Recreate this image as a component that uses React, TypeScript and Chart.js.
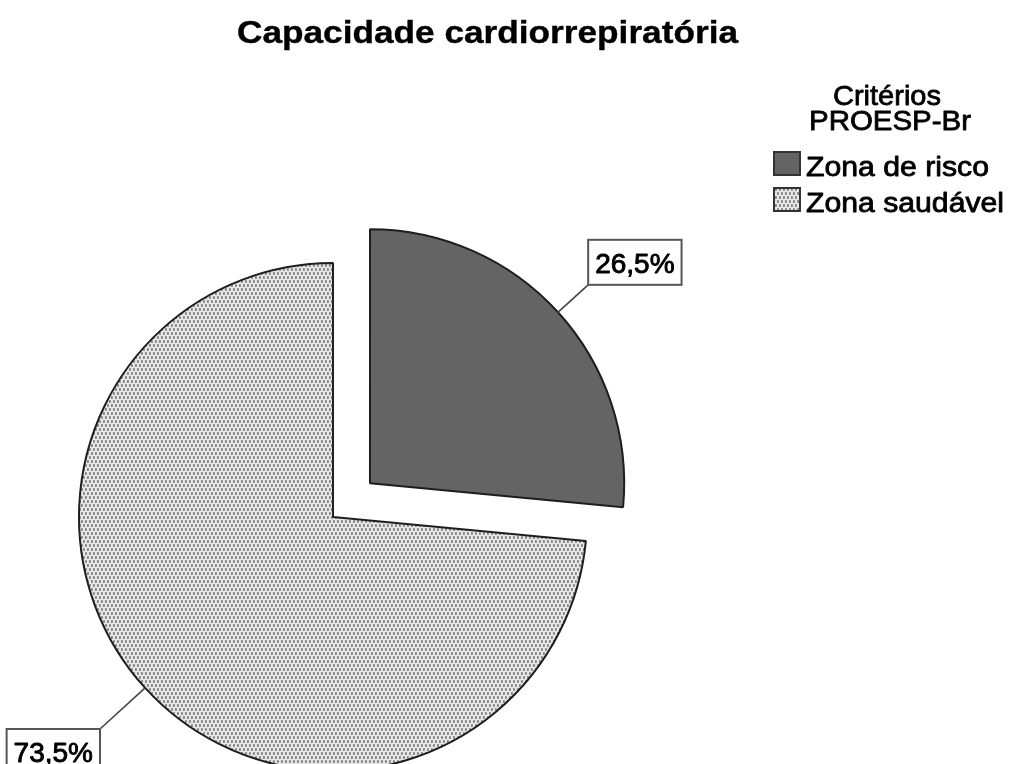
import { useEffect, useRef } from 'react';
import { Chart, registerables } from 'chart.js';

Chart.register(...registerables);

const chartTitle = 'Capacidade cardiorrepiratória';
const legendTitle = ['Critérios', 'PROESP-Br'];
const categories = ['Zona de risco', 'Zona saudável'];
const values = [26.5, 73.5];

const FONT = '"Liberation Sans", Arial, sans-serif';

function fmt(v: number) {
  return v.toFixed(1).replace('.', ',') + '%';
}

function makePattern(ctx: CanvasRenderingContext2D): CanvasPattern | string {
  const c = document.createElement('canvas');
  c.width = 4;
  c.height = 8;
  const p = c.getContext('2d');
  if (!p) return '#d8d8d8';
  p.fillStyle = '#e6e6e6';
  p.fillRect(0, 0, 4, 8);
  p.fillStyle = '#9a9a9a';
  p.fillRect(1, 0, 2, 3);
  p.fillRect(3, 4, 1, 3);
  p.fillRect(0, 4, 1, 3);
  p.fillStyle = '#737373';
  p.fillRect(1, 1, 1, 1);
  p.fillRect(3, 5, 1, 1);
  return ctx.createPattern(c, 'repeat') || '#d8d8d8';
}

function drawStretched(
  ctx: CanvasRenderingContext2D,
  text: string,
  x: number,
  y: number,
  font: string,
  align: 'left' | 'center',
  targetWidth: number,
  thicken: number
) {
  ctx.save();
  ctx.font = font;
  ctx.textBaseline = 'alphabetic';
  ctx.textAlign = 'left';
  const w = ctx.measureText(text).width;
  const sx = targetWidth / w;
  const left = align === 'center' ? x - targetWidth / 2 : x;
  ctx.translate(left, y);
  ctx.scale(sx, 1);
  ctx.fillStyle = '#000';
  ctx.fillText(text, 0, 0);
  if (thicken > 0) {
    ctx.strokeStyle = '#000';
    ctx.lineWidth = thicken;
    ctx.lineJoin = 'round';
    ctx.strokeText(text, 0, 0);
  }
  ctx.restore();
}

export default function App() {
  const ref = useRef<HTMLCanvasElement | null>(null);

  useEffect(() => {
    const canvas = ref.current;
    if (!canvas) return;
    const ctx = canvas.getContext('2d');
    if (!ctx) return;
    const pattern = makePattern(ctx);
    const colors = ['#646464', pattern];

    const overlay = {
      id: 'overlay',
      afterDraw(chart: any) {
        const c: CanvasRenderingContext2D = chart.ctx;
        // Title
        drawStretched(c, chartTitle, 487.5, 43, `bold 32px ${FONT}`, 'center', 501, 0.4);
        // Legend title
        drawStretched(c, legendTitle[0], 887, 105, `28px ${FONT}`, 'center', 108, 0.8);
        drawStretched(c, legendTitle[1], 890, 130, `28px ${FONT}`, 'center', 162, 0.8);
        // Legend items
        const itemWidths = [183, 198];
        categories.forEach((cat, i) => {
          const by = 151 + i * 36;
          c.save();
          c.fillStyle = colors[i] as any;
          c.fillRect(773, by, 28, 25);
          c.strokeStyle = '#333';
          c.lineWidth = 2;
          c.strokeRect(774, by + 1, 26, 23);
          c.restore();
          drawStretched(c, cat, 806, by + 25, `27px ${FONT}`, 'left', itemWidths[i], 0.8);
        });
        // Data labels with leader lines
        const meta = chart.getDatasetMeta(0);
        const lens = [41, 61];
        meta.data.forEach((arc: any, i: number) => {
          const { x, y, startAngle, endAngle, outerRadius } = arc.getProps(
            ['x', 'y', 'startAngle', 'endAngle', 'outerRadius'],
            true
          );
          const off = (arc.options.offset || 0) / 4;
          const mid = (startAngle + endAngle) / 2;
          const dx = Math.cos(mid);
          const dy = Math.sin(mid);
          const px = x + dx * (outerRadius + off);
          const py = y + dy * (outerRadius + off);
          const ex = px + dx * lens[i];
          const ey = py + dy * lens[i];
          c.save();
          c.strokeStyle = '#444';
          c.lineWidth = 1.6;
          c.beginPath();
          c.moveTo(px, py);
          c.lineTo(ex, ey);
          c.stroke();
          const text = fmt(values[i]);
          c.font = `28px ${FONT}`;
          const tw = c.measureText(text).width;
          const bw = tw + 14;
          const bh = 45;
          const bx = dx >= 0 ? ex : ex - bw;
          const byy = dy < 0 ? ey - bh : ey;
          c.fillStyle = '#fff';
          c.fillRect(bx, byy, bw, bh);
          c.strokeStyle = '#555';
          c.lineWidth = 2;
          c.strokeRect(bx, byy, bw, bh);
          c.restore();
          drawStretched(c, text, bx + bw / 2, byy + 33, `28px ${FONT}`, 'center', tw, 0.9);
        });
      },
    };

    const chart = new Chart(canvas, {
      type: 'pie',
      data: {
        labels: categories,
        datasets: [
          {
            data: values,
            backgroundColor: colors as any,
            borderColor: '#1e1e1e',
            borderWidth: 2,
            offset: [200, 0],
            hoverOffset: 0,
            radius: 254,
            clip: false,
          } as any,
        ],
      },
      options: {
        responsive: false,
        animation: false,
        events: [],
        layout: { padding: { left: 0, right: 345, top: 270, bottom: 0 } },
        plugins: {
          legend: { display: false },
          title: { display: false },
          tooltip: { enabled: false },
        },
      } as any,
      plugins: [overlay],
    });
    return () => chart.destroy();
  }, []);

  return (
    <div style={{ position: 'absolute', left: 0, top: 0, width: 1011, height: 764, background: '#fff' }}>
      <canvas ref={ref} width={1011} height={764} style={{ display: 'block' }} />
    </div>
  );
}
